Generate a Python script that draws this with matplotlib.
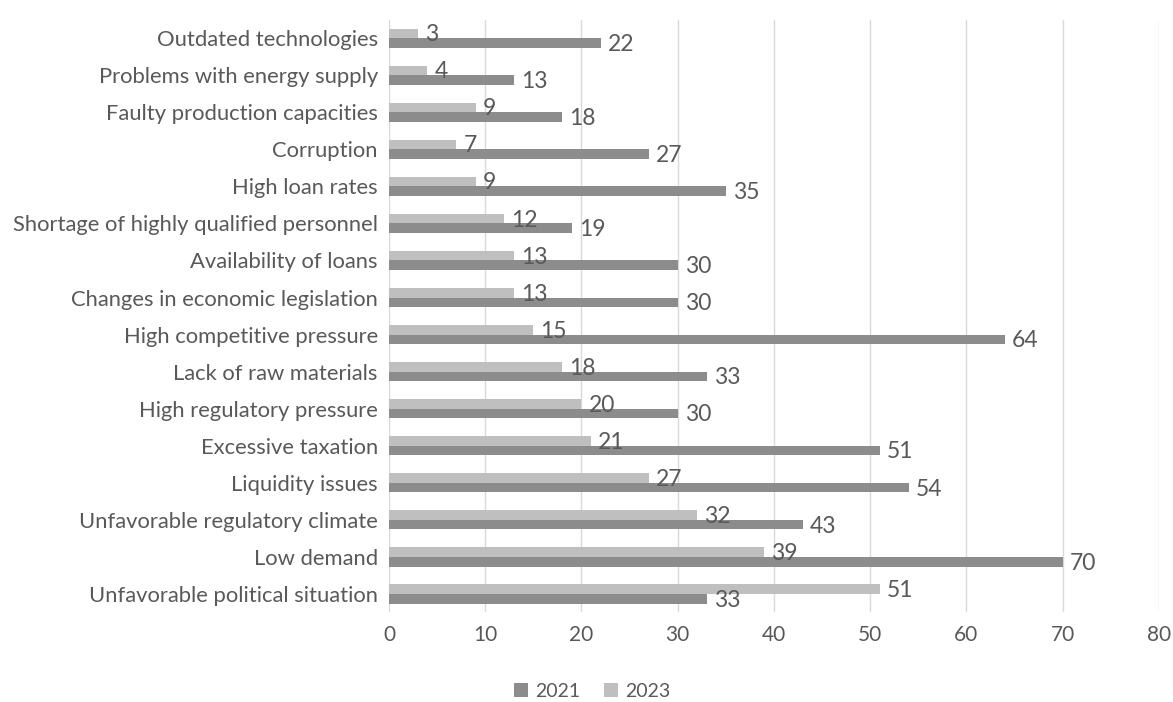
import numpy as np
import matplotlib.pyplot as plt

plt.rcParams['font.family'] = ['Lato', 'DejaVu Sans']

categories = [
    "Outdated technologies",
    "Problems with energy supply",
    "Faulty production capacities",
    "Corruption",
    "High loan rates",
    "Shortage of highly qualified personnel",
    "Availability of loans",
    "Changes in economic legislation",
    "High competitive pressure",
    "Lack of raw materials",
    "High regulatory pressure",
    "Excessive taxation",
    "Liquidity issues",
    "Unfavorable regulatory climate",
    "Low demand",
    "Unfavorable political situation",
]
values_2021 = [22, 13, 18, 27, 35, 19, 30, 30, 64, 33, 30, 51, 54, 43, 70, 33]
values_2023 = [3, 4, 9, 7, 9, 12, 13, 13, 15, 18, 20, 21, 27, 32, 39, 51]

text_color = "#595959"
dark = "#8c8c8c"
light = "#bfbfbf"

fig = plt.figure(figsize=(11.73, 7.02), dpi=100)
ax = fig.add_axes([0.3316, 0.1275, 0.6564, 0.8445])

y = np.arange(len(categories))
h = 0.26
b21 = ax.barh(y + h / 2, values_2021, height=h, color=dark, label="2021")
b23 = ax.barh(y - h / 2, values_2023, height=h, color=light, label="2023")

# value labels just past the end of each bar
for bars, vals in ((b21, values_2021), (b23, values_2023)):
    for bar, v in zip(bars, vals):
        ax.annotate(str(v), (bar.get_width(), bar.get_y() + bar.get_height() / 2),
                    xytext=(5, -1), textcoords="offset points",
                    va="center", ha="left", fontsize=16.5, color=text_color)

ax.set_xlim(0, 80)
ax.set_ylim(len(categories) - 0.5, -0.5)
ax.set_xticks(range(0, 81, 10))
ax.set_yticks(y)
ax.set_yticklabels(categories, fontsize=15.8)
ax.tick_params(axis="both", length=0, colors=text_color)
ax.tick_params(axis="x", labelsize=15, pad=9)
ax.tick_params(axis="y", pad=8)
ax.grid(axis="x", color="#d9d9d9", linewidth=1)
ax.set_axisbelow(True)
for s in ax.spines.values():
    s.set_visible(False)

fig.legend(handles=[b21, b23], loc="center", bbox_to_anchor=(0.505, 0.015),
           ncol=2, frameon=False, fontsize=14, labelcolor=text_color,
           handlelength=0.7, handleheight=0.7, handletextpad=0.4, columnspacing=1.2)

fig.savefig("out.png", dpi=100)
